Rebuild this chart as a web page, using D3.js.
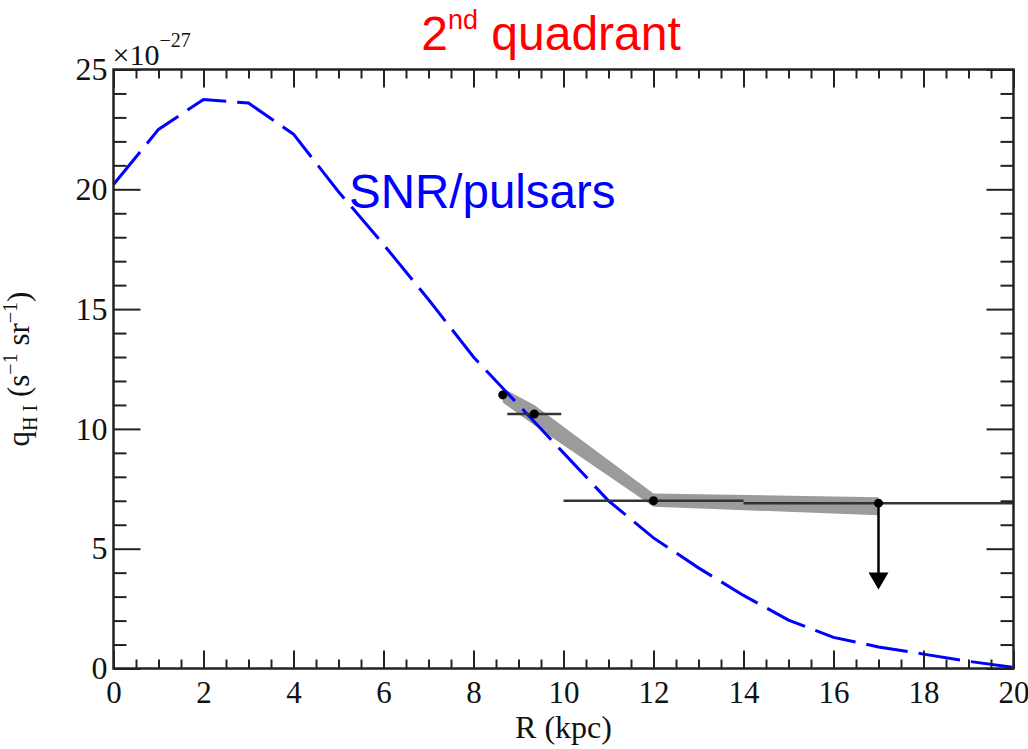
<!DOCTYPE html>
<html>
<head>
<meta charset="utf-8">
<script src="https://cdn.jsdelivr.net/npm/d3@7"></script>
<style>
  html, body { margin: 0; padding: 0; background: #fff; }
  svg { display: block; }
</style>
</head>
<body>
<svg id="chart" width="1028" height="749"></svg>
<script>
// Galactocentric radius grid (kpc) for the model curve
const radius = [0, 1, 2, 3, 4, 5, 6, 7, 8, 9, 10, 11, 12, 13, 14, 15, 16, 17, 18, 19, 20];
// SNR/pulsar-traced emissivity model, units of 1e-27 s^-1 sr^-1
const snrPulsars = [20.2, 22.5, 23.75, 23.6, 22.3, 19.9, 17.7, 15.4, 13.0, 11.0, 9.0, 7.0, 5.45, 4.2, 3.05, 2.02, 1.3, 0.9, 0.6, 0.3, 0.05];

// Measured emissivities in the 2nd quadrant
const pointR = [8.65, 9.35, 12, 17];
const pointQ = [11.42, 10.62, 7.0, 6.9];
// Radial extent of each ring (null = no bar)
const ringLow = [null, 8.75, 10, 14];
const ringHigh = [null, 9.95, 14, 20];
// Systematic uncertainty band
const bandUpper = [11.7, 11.0, 7.3, 7.15];
const bandLower = [11.1, 10.15, 6.75, 6.4];
// Upper-limit arrow on the outermost ring
const limitR = 17;
const limitFrom = 6.9;
const limitTo = 3.3;

// Axis ticks
const xMajor = [0, 2, 4, 6, 8, 10, 12, 14, 16, 18, 20];
const yMajor = [0, 5, 10, 15, 20, 25];

const svg = d3.select("#chart");
const plotLeft = 113.5, plotRight = 1013.5, plotTop = 69.5, plotBottom = 668.5;

const x = d3.scaleLinear().domain([0, 20]).range([plotLeft, plotRight]);
const y = d3.scaleLinear().domain([0, 25]).range([plotBottom, plotTop]);

const xMinor = d3.range(0, 20.01, 0.5).filter(v => !xMajor.includes(v));
const yMinor = d3.range(0, 25.01, 1).filter(v => !yMajor.includes(v));

const serif = "'Liberation Serif', 'Times New Roman', serif";
const sans = "'Liberation Sans', Arial, sans-serif";
const axisColor = "#222";

// ----- data layer -----
const plot = svg.append("g");

// uncertainty band
const band = d3.area()
  .x((d, i) => x(pointR[i]))
  .y0((d, i) => y(bandLower[i]))
  .y1((d, i) => y(bandUpper[i]));
plot.append("path")
  .attr("d", band(pointR))
  .attr("fill", "#9b9b9b");

// model curve
const line = d3.line().x((d, i) => x(radius[i])).y(d => y(d));
plot.append("path")
  .attr("d", line(snrPulsars))
  .attr("fill", "none")
  .attr("stroke", "#0000ff")
  .attr("stroke-width", 3)
  .attr("stroke-dasharray", "42,11");

// ring extents
pointR.forEach((r, i) => {
  if (ringLow[i] === null) return;
  plot.append("line")
    .attr("x1", x(ringLow[i])).attr("x2", x(ringHigh[i]))
    .attr("y1", y(pointQ[i])).attr("y2", y(pointQ[i]))
    .attr("stroke", "#333").attr("stroke-width", 2.5);
});

// upper limit arrow
const ax = x(limitR), ay0 = y(limitFrom), ay1 = y(limitTo);
plot.append("line")
  .attr("x1", ax).attr("x2", ax)
  .attr("y1", ay0).attr("y2", ay1 - 15)
  .attr("stroke", "#000").attr("stroke-width", 2.5);
plot.append("path")
  .attr("d", `M${ax - 10},${ay1 - 17} L${ax + 10},${ay1 - 17} L${ax},${ay1} Z`)
  .attr("fill", "#000");

// points
plot.selectAll("circle.pt")
  .data(pointR)
  .enter().append("circle")
  .attr("class", "pt")
  .attr("cx", d => x(d))
  .attr("cy", (d, i) => y(pointQ[i]))
  .attr("r", 4.5)
  .attr("fill", "#000");

// ----- frame and ticks -----
function styleAxis(g) {
  g.select(".domain").remove();
  g.selectAll(".tick line").attr("stroke", axisColor).attr("stroke-width", 2);
}

// bottom
const gB = svg.append("g").attr("transform", `translate(0,${plotBottom})`)
  .call(d3.axisBottom(x).tickValues(xMajor).tickSize(-18).tickPadding(12).tickFormat(d3.format("d")));
styleAxis(gB);
gB.selectAll("text").attr("font-family", serif).attr("font-size", 31).attr("fill", "#111");
const gBm = svg.append("g").attr("transform", `translate(0,${plotBottom})`)
  .call(d3.axisBottom(x).tickValues(xMinor).tickSize(-9).tickFormat(""));
styleAxis(gBm);

// top
const gT = svg.append("g").attr("transform", `translate(0,${plotTop})`)
  .call(d3.axisTop(x).tickValues(xMajor).tickSize(-18).tickFormat(""));
styleAxis(gT);
const gTm = svg.append("g").attr("transform", `translate(0,${plotTop})`)
  .call(d3.axisTop(x).tickValues(xMinor).tickSize(-9).tickFormat(""));
styleAxis(gTm);

// left
const gL = svg.append("g").attr("transform", `translate(${plotLeft},0)`)
  .call(d3.axisLeft(y).tickValues(yMajor).tickSize(-27).tickPadding(6).tickFormat(d3.format("d")));
styleAxis(gL);
gL.selectAll("text").attr("font-family", serif).attr("font-size", 32).attr("fill", "#111");
const gLm = svg.append("g").attr("transform", `translate(${plotLeft},0)`)
  .call(d3.axisLeft(y).tickValues(yMinor).tickSize(-13).tickFormat(""));
styleAxis(gLm);

// right
const gR = svg.append("g").attr("transform", `translate(${plotRight},0)`)
  .call(d3.axisRight(y).tickValues(yMajor).tickSize(-27).tickFormat(""));
styleAxis(gR);
const gRm = svg.append("g").attr("transform", `translate(${plotRight},0)`)
  .call(d3.axisRight(y).tickValues(yMinor).tickSize(-13).tickFormat(""));
styleAxis(gRm);

// frame
svg.append("rect")
  .attr("x", plotLeft).attr("y", plotTop)
  .attr("width", plotRight - plotLeft).attr("height", plotBottom - plotTop)
  .attr("fill", "none").attr("stroke", axisColor).attr("stroke-width", 2.5);

// exponent marker
const expo = svg.append("text")
  .attr("x", plotLeft - 1).attr("y", 65)
  .attr("font-family", serif).attr("font-size", 30).attr("fill", "#111");
expo.append("tspan").text("\u00d710");
expo.append("tspan").attr("dy", -18).attr("font-size", 20).text("\u221227");

// axis titles
svg.append("text")
  .attr("x", (plotLeft + plotRight) / 2).attr("y", 738)
  .attr("text-anchor", "middle")
  .attr("font-family", serif).attr("font-size", 32).attr("fill", "#111")
  .text("R (kpc)");

const yl = svg.append("text")
  .attr("transform", `translate(29,${(plotTop + plotBottom) / 2}) rotate(-90)`)
  .attr("text-anchor", "middle")
  .attr("font-family", serif).attr("font-size", 31).attr("fill", "#111");
yl.append("tspan").text("q");
yl.append("tspan").attr("dy", 8).attr("font-size", 20).text("H I");
yl.append("tspan").attr("dy", -8).text(" (s");
yl.append("tspan").attr("dy", -12).attr("font-size", 20).text("\u22121");
yl.append("tspan").attr("dy", 12).text(" sr");
yl.append("tspan").attr("dy", -12).attr("font-size", 20).text("\u22121");
yl.append("tspan").attr("dy", 12).text(")");

// annotations
svg.append("text")
  .attr("x", 349).attr("y", 208)
  .attr("font-family", sans).attr("font-size", 47.5).attr("fill", "#0000ff")
  .text("SNR/pulsars");

const title = svg.append("text")
  .attr("x", 551).attr("y", 50)
  .attr("text-anchor", "middle")
  .attr("font-family", sans).attr("font-size", 48).attr("fill", "#ff0000");
title.append("tspan").text("2");
title.append("tspan").attr("dy", -21).attr("font-size", 27).text("nd");
title.append("tspan").attr("dy", 21).text(" quadrant");
</script>
</body>
</html>
